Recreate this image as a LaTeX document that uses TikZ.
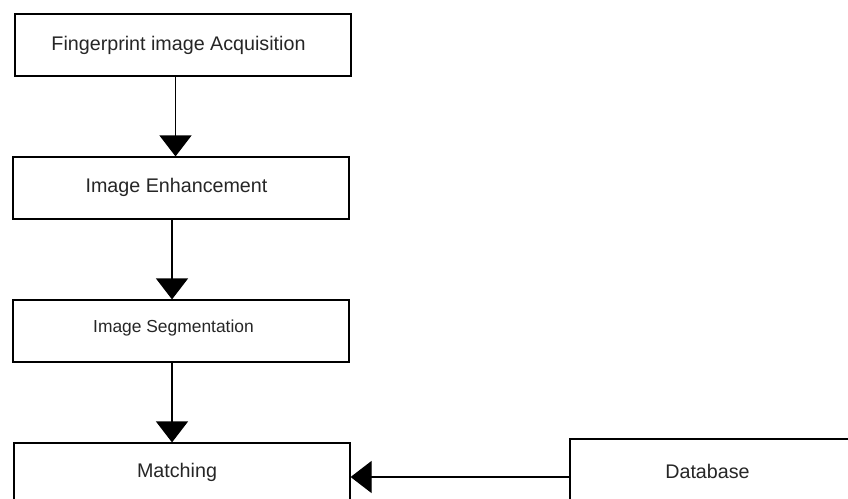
\documentclass[tikz,border=0pt]{standalone}
\usepackage{fontspec}
\setmainfont{Liberation Sans}
\usetikzlibrary{arrows.meta}
\begin{document}
\begin{tikzpicture}[x=1pt,y=-1pt,
  stepbox/.style={draw=black,line width=1.2pt,rectangle,minimum width=336pt,minimum height=62pt,inner sep=0pt},
  lbl/.style={text=black!85,inner sep=0pt,font=\fontsize{19.7}{22}\selectfont},
  arr/.style={draw=black,line width=1.2pt,-{Triangle[width=32pt,length=21pt]}}]
\useasboundingbox (0,0) rectangle (848,498);
\clip (0,0) rectangle (848,498);
\fill[white] (0,0) rectangle (848,498);
\node[stepbox] (b1) at (183,45) {};
\node[stepbox] (b2) at (181,188) {};
\node[stepbox] (b3) at (181,331) {};
\node[stepbox,minimum height=58pt] (b4) at (182,472) {};
\node[stepbox,minimum width=300pt,minimum height=66pt] (b5) at (720,472) {};
\node[lbl] (t1) at (178.5,45) {Fingerprint image Acquisition};
\node[lbl] (t2) at (176.5,187) {Image Enhancement};
\node[lbl,font=\fontsize{17.4}{20}\selectfont] (t3) at (173.5,328) {Image Segmentation};
\node[lbl] (t4) at (177,472) {Matching};
\node[lbl] (t5) at (707.5,471) {Database};
\draw[arr] ([xshift=-7.5pt]b1.south) -- ([xshift=-5.5pt]b2.north);
\draw[arr] ([xshift=-9pt]b2.south) -- ([xshift=-9pt]b3.north);
\draw[arr] ([xshift=-9pt]b3.south) -- ([xshift=-10pt]b4.north);
\draw[arr] ([yshift=-5pt]b5.west) -- ([yshift=-5pt]b4.east);
\end{tikzpicture}
\end{document}
